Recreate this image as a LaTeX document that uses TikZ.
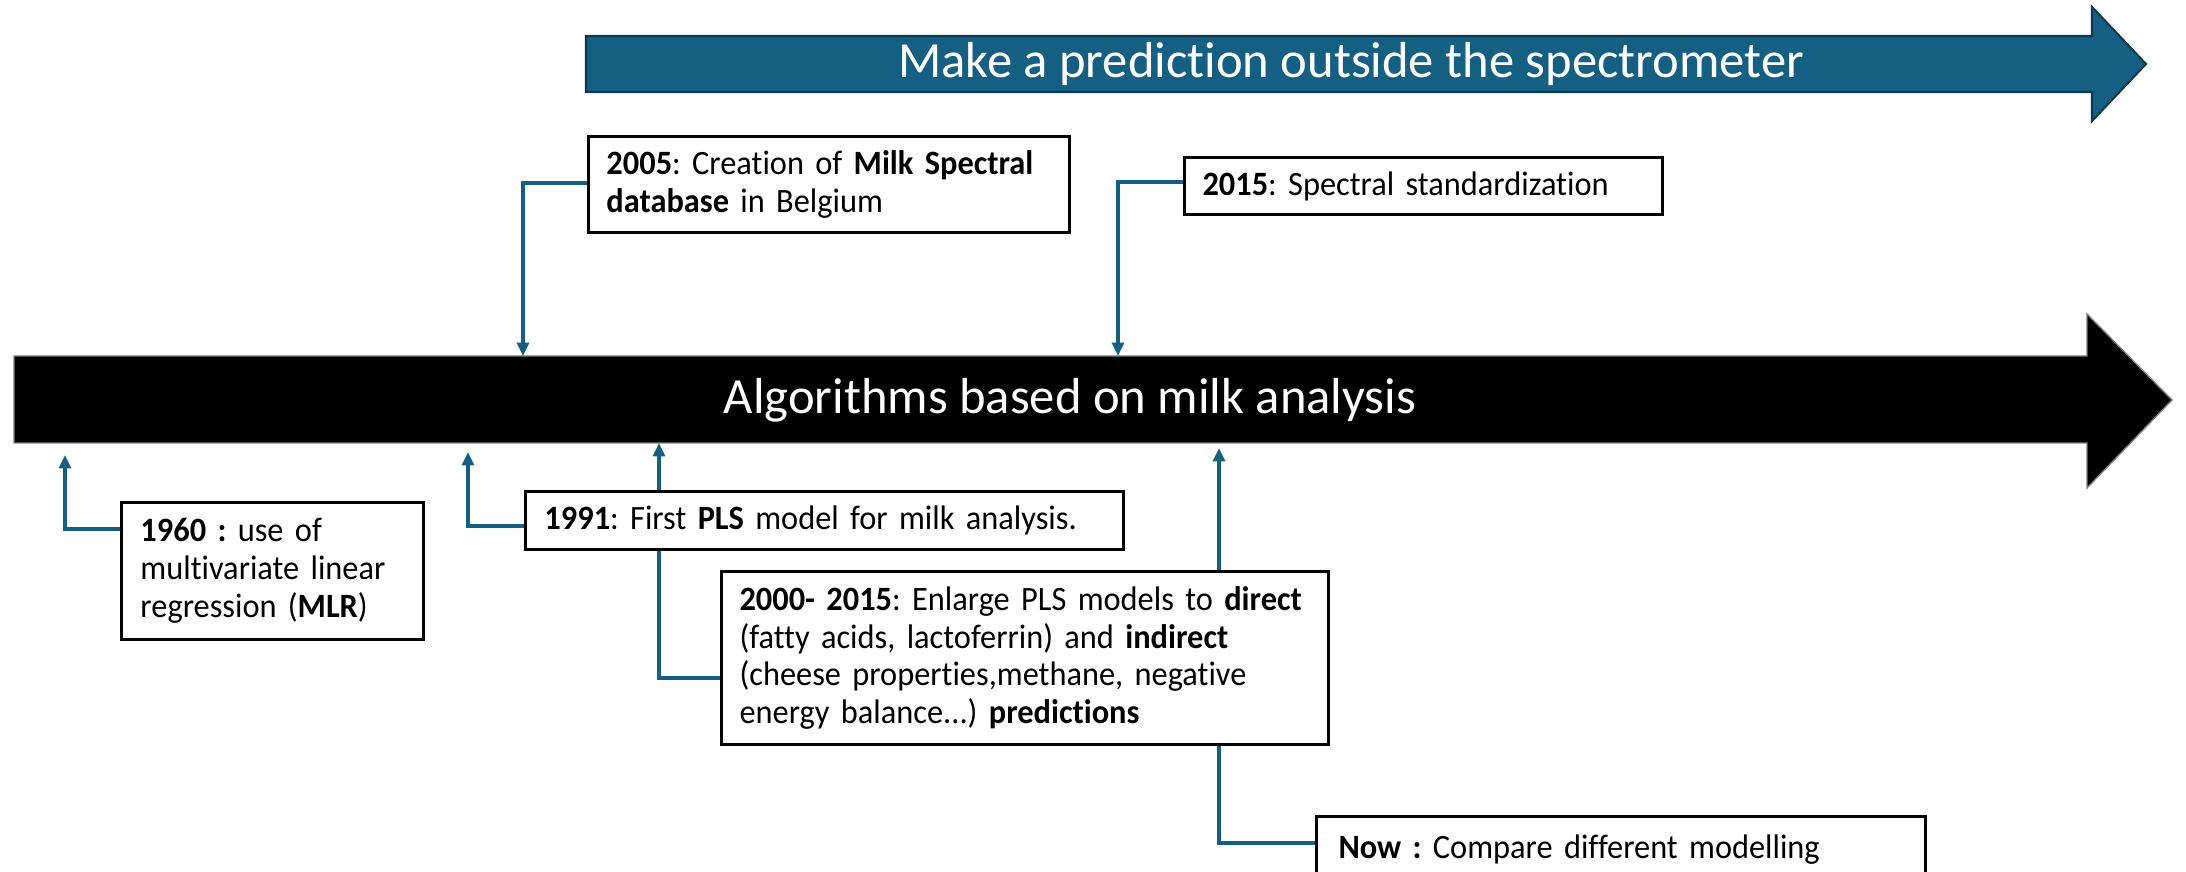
\documentclass[tikz,border=0pt]{standalone}
\usepackage{fontspec}
\setmainfont{Carlito}[Ligatures={NoCommon}]
\newfontfamily\evfamily{Carlito}[FakeStretch=0.95, Ligatures={NoCommon}]
\usetikzlibrary{arrows.meta,calc}
\definecolor{accent}{HTML}{156082}
\definecolor{accentdark}{HTML}{0C3A4F}
\definecolor{edgegray}{HTML}{7F7F7F}
\pgfdeclarelayer{bg}
\pgfsetlayers{bg,main}
\newcommand{\evfont}{\evfamily\fontsize{9.7}{10.8}\selectfont\frenchspacing\hyphenpenalty=10000 \exhyphenpenalty=10000 \relax}
\begin{document}
\begin{tikzpicture}[x=0.1mm,y=-0.1mm,
  evbox/.style={draw=black, line width=0.85pt, fill=white, anchor=north west,
    inner xsep=2mm, inner ysep=0pt, align=left, font=\evfont},
  conn/.style={draw=accent, line width=0.9pt, -{Triangle[length=3.8pt,width=3.4pt]}},
  bigtext/.style={font=\fontsize{14.4}{16}\selectfont, text=white, inner sep=0pt}]
\useasboundingbox (0,0) rectangle (2186,872);
\clip (0,0) rectangle (2186,872);

% event boxes
\node[evbox, minimum width=30.2mm, text width=26.4mm, inner xsep=1.9mm, minimum height=13.7mm] (e1960) at (120,501)
  {\mbox{\textbf{1960 :} use of}\\\mbox{multivariate linear}\\\mbox{regression (\textbf{MLR})}};
\node[evbox, minimum width=59.8mm, text width=56mm, inner xsep=1.9mm, minimum height=5.8mm] (e1991) at (524,490)
  {\mbox{\textbf{1991}: First \textbf{PLS} model for milk analysis.}};
\node[evbox, minimum width=60.7mm, text width=57.1mm, inner xsep=1.8mm, minimum height=17.3mm] (e2000) at (720,570)
  {\mbox{\textbf{2000- 2015}: Enlarge PLS models to \textbf{direct}}\\\mbox{(fatty acids, lactoferrin) and \textbf{indirect}}\\\mbox{(cheese properties,methane, negative}\\\mbox{energy balance...) \textbf{predictions}}};
\node[evbox, minimum width=48.1mm, text width=44.5mm, inner xsep=1.8mm, minimum height=9.6mm] (e2005) at (587,135)
  {\mbox{\textbf{2005}: Creation of \textbf{Milk Spectral}}\\\mbox{\textbf{database} in Belgium}};
\node[evbox, minimum width=47.8mm, text width=44.2mm, inner xsep=1.8mm, minimum height=5.7mm] (e2015) at (1183,156)
  {\mbox{\textbf{2015}: Spectral standardization}};
\node[evbox, minimum width=60.9mm, text width=56.5mm, inner xsep=2.2mm, inner ysep=1mm,
  text height=3.2mm, text depth=5mm] (enow) at (1315,815)
  {\mbox{\textbf{Now :} Compare different modelling}};

% arrow labels
\node[bigtext] (toptext) at (1351,64) {Make a prediction outside the spectrometer};
\node[bigtext] (maintext) at (1070,400) {Algorithms based on milk analysis};

% connector end points on the timeline
\coordinate (t1960) at (65,455);
\coordinate (t1991) at (468,452);
\coordinate (t2000) at (659,443);
\coordinate (tnow) at (1219,448);
\coordinate (t2005) at (523,356);
\coordinate (t2015) at (1118,356);

\begin{pgfonlayer}{bg}
  % top arrow
  \path[fill=accent, draw=accentdark, line width=0.6pt]
    (586,36) -- (2092,36) -- (2092,7) -- (2146,64) -- (2092,121) -- (2092,92) -- (586,92) -- cycle;
  % main timeline arrow
  \path[fill=black, draw=edgegray, line width=0.4pt]
    (14,356) -- (2087,356) -- (2087,314) -- (2172,400) -- (2087,488) -- (2087,443) -- (14,443) -- cycle;
  % connectors
  \draw[conn] ([yshift=-2.8mm]e1960.north west) -| (t1960);
  \draw[conn] ([yshift=-3.6mm]e1991.north west) -| (t1991);
  \draw[conn] ([yshift=-10.8mm]e2000.north west) -| (t2000);
  \draw[conn] ([yshift=-2.8mm]enow.north west) -| (tnow);
  \draw[conn] ([yshift=-4.8mm]e2005.north west) -| (t2005);
  \draw[conn] ([yshift=-2.6mm]e2015.north west) -| (t2015);
\end{pgfonlayer}
\end{tikzpicture}
\end{document}
